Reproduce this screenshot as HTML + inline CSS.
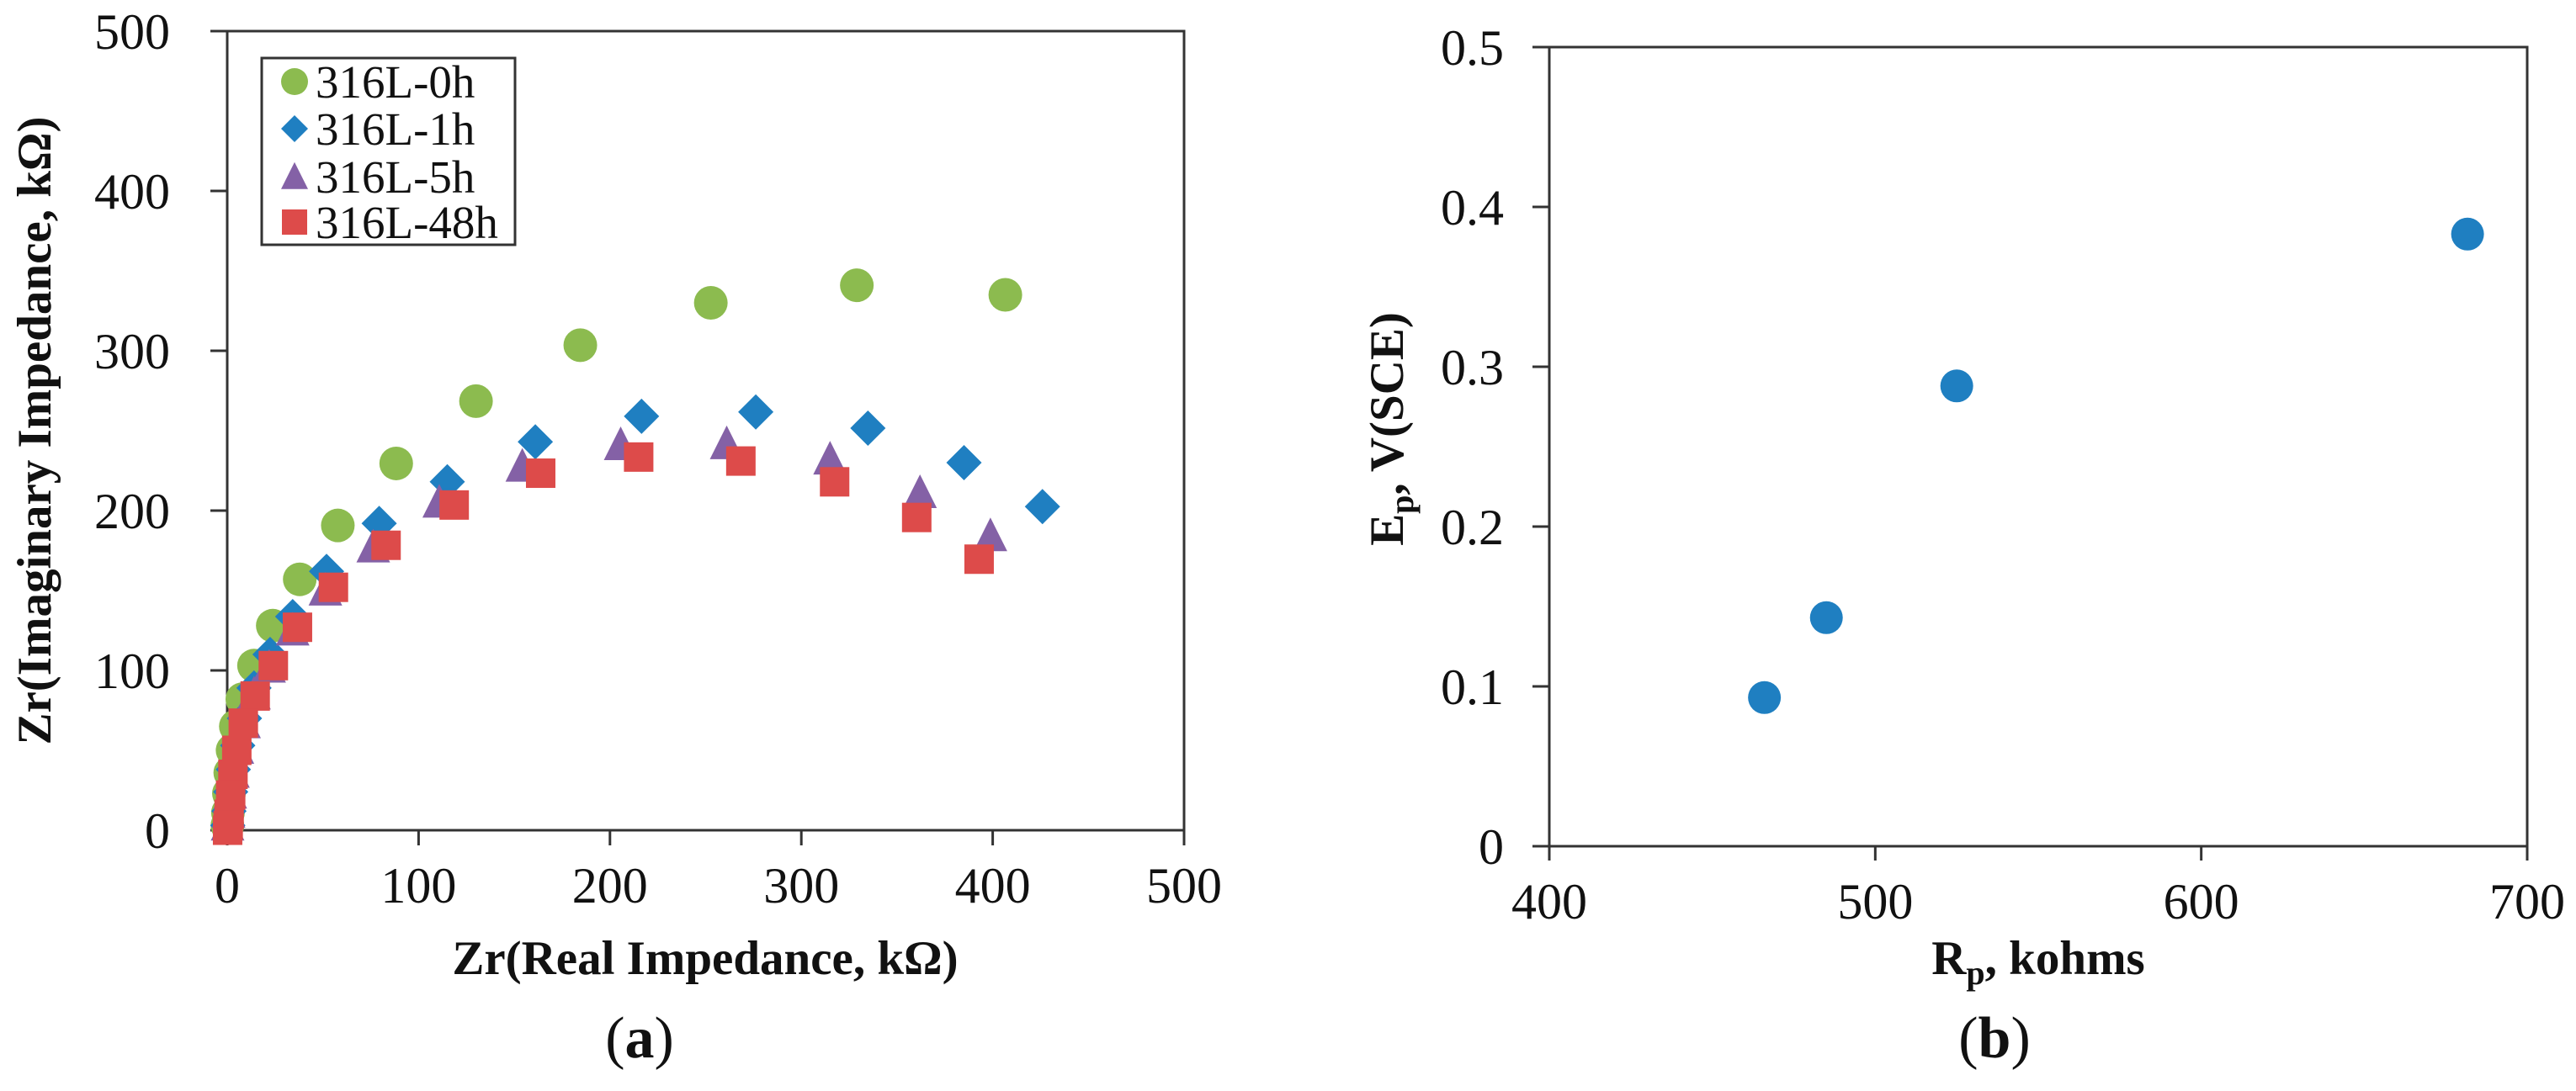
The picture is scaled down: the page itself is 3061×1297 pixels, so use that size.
<!DOCTYPE html>
<html><head><meta charset="utf-8">
<style>
html,body{margin:0;padding:0;background:#fff;}
svg{display:block;font-family:"Liberation Serif","Times New Roman",serif;}
</style></head>
<body>
<svg id="fig" width="3061" height="1297" viewBox="0 0 3061 1297" xmlns="http://www.w3.org/2000/svg">
  <g id="chartA"></g>
  <g id="chartB"></g>
</svg>
<script>
// ---------- Chart (a) data ----------
const aXTicks = [0, 100, 200, 300, 400, 500];
const aYTicks = [0, 100, 200, 300, 400, 500];
const seriesNames = ["316L-0h", "316L-1h", "316L-5h", "316L-48h"];
const green0hX = [406.6, 329, 252.7, 184.5, 130, 88.3, 57.8, 37.9, 23.8, 14, 7.9, 4.5, 2.8, 1.6, 0.9, 0.4, 0.1];
const green0hY = [335, 341, 330, 303.5, 268.5, 229.5, 190.7, 157, 128, 103, 82, 65, 50, 36, 23, 11, 3];
const blue1hX = [426, 385, 334.8, 276.2, 216.5, 161, 115, 79.4, 51.9, 34.2, 22.4, 14, 9, 5.5, 3.2, 1.8, 0.9, 0.3];
const blue1hY = [202.5, 230, 251.6, 261.7, 259, 243, 218, 192, 162, 133.7, 110, 89, 70, 53, 38, 24, 12, 3];
const purple5hX = [398.8, 362, 315, 261, 205.6, 154.2, 110.8, 76.3, 51.3, 34.2, 21.9, 14, 8.8, 5.3, 3, 1.6, 0.7, 0.2];
const purple5hY = [183, 210, 231, 240.6, 240, 226.5, 204, 176, 149, 124, 100.8, 84, 66, 50, 35, 22, 10, 2];
const red48hX = [392.9, 360.3, 317.4, 268.4, 215, 163.8, 118.6, 83, 55.5, 36.7, 24.1, 14.6, 8.4, 5, 3, 1.8, 1, 0.5, 0.2];
const red48hY = [169.6, 195.7, 218, 231, 233.5, 223.4, 203.5, 178.3, 152, 127, 103, 84, 67, 50, 35, 22, 10, 3, 0];

// ---------- Chart (b) data ----------
const bXTicks = [400, 500, 600, 700];
const bYTicks = [0, 0.1, 0.2, 0.3, 0.4, 0.5];
const rpValues = [466, 485, 525, 681.7];
const epValues = [0.093, 0.143, 0.288, 0.383];

const NS = "http://www.w3.org/2000/svg";
function mk(parent, tag, attrs, text) {
  const e = document.createElementNS(NS, tag);
  for (const k in attrs) e.setAttribute(k, attrs[k]);
  if (text !== undefined) e.textContent = text;
  parent.appendChild(e);
  return e;
}

// ---------- Chart (a) ----------
const A = { x0: 270, x1: 1407, y0: 987, y1: 37, xmin: 0, xmax: 500, ymin: 0, ymax: 500 };
const ax = v => A.x0 + (v - A.xmin) / (A.xmax - A.xmin) * (A.x1 - A.x0);
const ay = v => A.y0 - (v - A.ymin) / (A.ymax - A.ymin) * (A.y0 - A.y1);
const gA = document.getElementById("chartA");

const frameA = mk(gA, "rect", { x: A.x0, y: A.y1, width: A.x1 - A.x0, height: A.y0 - A.y1, fill: "none", stroke: "#333", "stroke-width": 3 });



aXTicks.forEach(v => {
  const t = mk(gA, "line", { x1: ax(v), x2: ax(v), y1: A.y0, y2: A.y0 + 18, stroke: "#333", "stroke-width": 3 });
  
  
  const l = mk(gA, "text", { x: ax(v), y: A.y0 + 86, "font-size": 60, "text-anchor": "middle", fill: "#111" }, String(v));
  
  
});
aYTicks.forEach(v => {
  const t = mk(gA, "line", { x1: A.x0 - 20, x2: A.x0, y1: ay(v), y2: ay(v), stroke: "#333", "stroke-width": 3 });
  
  
  const l = mk(gA, "text", { x: 202, y: ay(v) + 21, "font-size": 60, "text-anchor": "end", fill: "#111" }, String(v));
  
  
});

const xtA = mk(gA, "text", { x: 838, y: 1158, "font-size": 57, "font-weight": "bold", "text-anchor": "middle", fill: "#111" }, "Zr(Real Impedance, kΩ)");


const ytA = mk(gA, "text", { x: 0, y: 0, "font-size": 57, "font-weight": "bold", "text-anchor": "middle", fill: "#111", transform: "translate(60,512) rotate(-90)" }, "Zr(Imaginary Impedance, kΩ)");



const C_GREEN = "#8cbb4f", C_BLUE = "#1f7fc1", C_PURPLE = "#8461a6", C_RED = "#dd4b4a";

function circle(g, cx, cy, r, c) { return mk(g, "ellipse", { cx: cx, cy: cy, rx: r, ry: r, fill: c }); }
function diamond(g, cx, cy, r, c) { return mk(g, "polygon", { points: `${cx},${cy - r} ${cx + r},${cy} ${cx},${cy + r} ${cx - r},${cy}`, fill: c }); }
function triangle(g, cx, cy, r, c) { return mk(g, "polygon", { points: `${cx},${cy - r * 1.2} ${cx + r},${cy + r * 0.8} ${cx - r},${cy + r * 0.8}`, fill: c }); }
function square(g, cx, cy, r, c) { return mk(g, "rect", { x: cx - r, y: cy - r, width: 2 * r, height: 2 * r, fill: c }); }

const gG = mk(gA, "g", {});  
const gB = mk(gA, "g", {});  
const gP = mk(gA, "g", {});  
const gR = mk(gA, "g", {});  

green0hX.forEach((x, i) => {
  const m = circle(gG, ax(x), ay(green0hY[i]), 20, C_GREEN);
  
  
});
blue1hX.forEach((x, i) => {
  const m = diamond(gB, ax(x), ay(blue1hY[i]), 21, C_BLUE);
  
  
});
purple5hX.forEach((x, i) => {
  const m = triangle(gP, ax(x), ay(purple5hY[i]), 20, C_PURPLE);
  
  
});
red48hX.forEach((x, i) => {
  const m = square(gR, ax(x), ay(red48hY[i]), 17.5, C_RED);
  
  
});

// legend
const lg = mk(gA, "g", {});


mk(lg, "rect", { x: 311, y: 69, width: 301, height: 222, fill: "#fff", stroke: "#333", "stroke-width": 3 });
const rowsY = [97, 153, 210, 264];
const drawers = [
  (y) => circle(lg, 350, y, 16, C_GREEN),
  (y) => diamond(lg, 350, y, 16, C_BLUE),
  (y) => triangle(lg, 350, y + 2, 16, C_PURPLE),
  (y) => square(lg, 350, y, 15, C_RED)
];
seriesNames.forEach((n, i) => {
  const m = drawers[i](rowsY[i]);
  
  
  const t = mk(lg, "text", { x: 375, y: rowsY[i] + 19, "font-size": 55, fill: "#111" }, n);
  
  
});

const capA = mk(gA, "text", { x: 760, y: 1257, "font-size": 70, "text-anchor": "middle", fill: "#111" });


capA.innerHTML = '(<tspan font-weight="bold">a</tspan>)';

// ---------- Chart (b) ----------
const B = { x0: 1841, x1: 3003, y0: 1006, y1: 56, xmin: 400, xmax: 700, ymin: 0, ymax: 0.5 };
const bx = v => B.x0 + (v - B.xmin) / (B.xmax - B.xmin) * (B.x1 - B.x0);
const by = v => B.y0 - (v - B.ymin) / (B.ymax - B.ymin) * (B.y0 - B.y1);
const gBc = document.getElementById("chartB");

const frameB = mk(gBc, "rect", { x: B.x0, y: B.y1, width: B.x1 - B.x0, height: B.y0 - B.y1, fill: "none", stroke: "#333", "stroke-width": 3 });



bXTicks.forEach(v => {
  const t = mk(gBc, "line", { x1: bx(v), x2: bx(v), y1: B.y0, y2: B.y0 + 17, stroke: "#333", "stroke-width": 3 });
  
  
  const l = mk(gBc, "text", { x: bx(v), y: B.y0 + 86, "font-size": 60, "text-anchor": "middle", fill: "#111" }, String(v));
  
  
});
bYTicks.forEach(v => {
  const t = mk(gBc, "line", { x1: B.x0 - 20, x2: B.x0, y1: by(v), y2: by(v), stroke: "#333", "stroke-width": 3 });
  
  
  const l = mk(gBc, "text", { x: 1787, y: by(v) + 21, "font-size": 60, "text-anchor": "end", fill: "#111" }, String(v));
  
  
});

const xtB = mk(gBc, "text", { x: 2422, y: 1158, "font-size": 57, "font-weight": "bold", "text-anchor": "middle", fill: "#111" });


xtB.innerHTML = 'R<tspan font-size="40" dy="12">p</tspan><tspan dy="-12">, kohms</tspan>';

const ytB = mk(gBc, "text", { x: 0, y: 0, "font-size": 57, "font-weight": "bold", "text-anchor": "middle", fill: "#111", transform: "translate(1667,510) rotate(-90)" });


ytB.innerHTML = 'E<tspan font-size="40" dy="12">p</tspan><tspan dy="-12">, V(SCE)</tspan>';

rpValues.forEach((x, i) => {
  const m = circle(gBc, bx(x), by(epValues[i]), 19.5, C_BLUE);
  
  
});

const capB = mk(gBc, "text", { x: 2370, y: 1257, "font-size": 70, "text-anchor": "middle", fill: "#111" });


capB.innerHTML = '(<tspan font-weight="bold">b</tspan>)';
</script>
</body></html>
